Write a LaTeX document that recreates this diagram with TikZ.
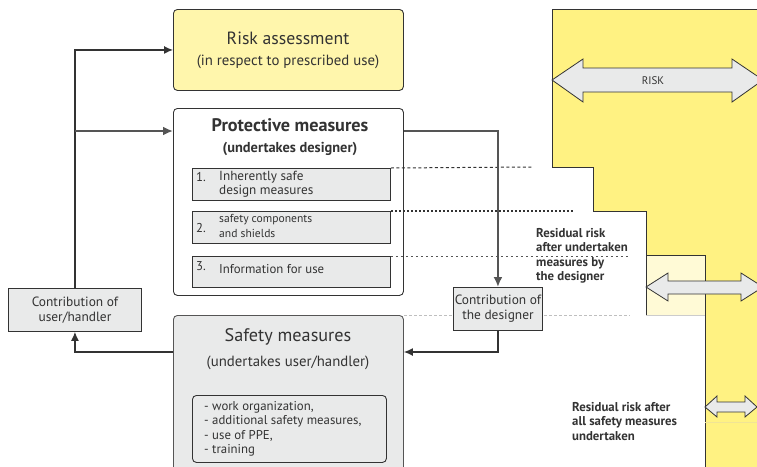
\documentclass[tikz,border=0pt]{standalone}
\usepackage{fontspec}
\setmainfont{PT Sans}
\usetikzlibrary{arrows.meta}
\definecolor{riskyellow}{RGB}{255,242,130}
\definecolor{paleyellow}{RGB}{255,246,172}
\definecolor{lightyellow}{RGB}{255,250,214}
\definecolor{boxgray}{RGB}{233,234,234}
\definecolor{linegray}{RGB}{51,51,51}
\definecolor{midgray}{RGB}{85,85,85}
\begin{document}
\begin{tikzpicture}[x=1pt,y=-1pt,
		box/.style={draw=linegray,line width=0.9pt,rounded corners=4pt,inner sep=0pt,anchor=north west},
		item/.style={draw=linegray,line width=0.9pt,fill=boxgray,inner sep=0pt,anchor=north west},
		bigarrow/.style={fill=boxgray,draw=linegray,line width=0.8pt,line join=miter},
		title/.style={text=linegray,font=\fontsize{17.7}{20}\selectfont},
		subtitle/.style={text=linegray,font=\fontsize{14.8}{17}\selectfont},
		small/.style={text=linegray,font=\fontsize{12.8}{14}\selectfont,inner sep=0pt},
		note/.style={text=linegray,font=\bfseries\fontsize{12.8}{14.4}\selectfont,inner sep=0pt,anchor=north west,align=left},
		conn/.style={draw=linegray,line width=1.2pt,-{Latex[length=9pt,width=8pt]}},
		thickconn/.style={draw=midgray,line width=2pt,-{Latex[length=10pt,width=9pt]}}
	]
	\useasboundingbox (0,0) rectangle (757,466);
	\clip (0,0) rectangle (757,466);

	% risk column
	\fill[lightyellow] (646,255) rectangle (705,315);
	\draw[gray!40] (646,315) -- (705,315);
	\draw[fill=riskyellow,draw=linegray,line width=0.9pt] (552,9) -- (762,9) -- (762,470) -- (705,470)
		-- (705,255) -- (646,255) -- (646,211) -- (593,211) -- (593,167) -- (552,167) -- cycle;
	\draw[linegray,line width=0.9pt] (646,255) -- (646,315);
	\draw[color={rgb,255:red,240;green,228;blue,150}] (705,422) -- (757,422);

	\draw[bigarrow] (552,80) -- (583,59) -- (583,68) -- (732,68) -- (732,59) -- (763,80)
		-- (732,102) -- (732,92) -- (583,92) -- (583,102) -- cycle;
	\node[small,font=\fontsize{11}{13}\selectfont] (risklabel) at (653,81) {RISK};
	\draw[bigarrow] (646,287) -- (668,273) -- (668,281) -- (741,281) -- (741,273) -- (763,287)
		-- (741,301) -- (741,294) -- (668,294) -- (668,301) -- cycle;
	\draw[bigarrow] (705,407) -- (717,396) -- (717,402) -- (745,402) -- (745,396) -- (757,407)
		-- (745,417) -- (745,412) -- (717,412) -- (717,417) -- cycle;

	\node[note] (resid1) at (536,228) {Residual risk\\after undertaken\\measures by\\the designer};
	\node[note] (resid2) at (572,402) {Residual risk after\\all safety measures\\undertaken};

	% boxes
	\node[box,fill=paleyellow,minimum width=230,minimum height=81] (risk) at (173,9) {};
	\node[title] (risktitle) at (288,38) {Risk assessment};
	\node[subtitle] (risksub) at (288,62) {(in respect to prescribed use)};

	\node[box,fill=white,minimum width=230,minimum height=187] (prot) at (173,108) {};
	\node[title,font=\bfseries\fontsize{18.2}{20}\selectfont] (prottitle) at (290,125) {Protective measures};
	\node[subtitle,font=\bfseries\fontsize{14.4}{17}\selectfont] (protsub) at (290,149) {(undertakes designer)};

	\node[item,minimum width=198,minimum height=32] (m1) at (192,168) {};
	\node[small,anchor=west] (n1) at (196,177) {1.};
	\node[small,anchor=west,align=left,font=\fontsize{13.2}{14}\selectfont] (t1) at (219,184) {Inherently safe\\design measures};
	\node[item,minimum width=198,minimum height=32] (m2) at (192,211) {};
	\node[small,anchor=west] (n2) at (196,228) {2.};
	\node[small,anchor=west,align=left,font=\fontsize{11.6}{14.5}\selectfont] (t2) at (219,226) {safety components\\and shields};
	\node[item,minimum width=198,minimum height=31] (m3) at (192,256) {};
	\node[small,anchor=west] (n3) at (196,266) {3.};
	\node[small,anchor=west] (t3) at (219,269) {Information for use};

	\node[box,fill=boxgray,draw=midgray,minimum width=230,minimum height=170] (safety) at (173,315) {};
	\node[title,font=\fontsize{18.2}{20}\selectfont] (safetitle) at (288,337) {Safety measures};
	\node[subtitle] (safesub) at (288,363) {(undertakes user/handler)};
	\node[box,fill=boxgray,minimum width=194,minimum height=67] (list) at (192,395) {};
	\node[small,anchor=west,align=left,font=\fontsize{12.8}{14.5}\selectfont] (listtext) at (204,429)
		{- work organization,\\- additional safety measures,\\- use of PPE,\\- training};

	\node[item,minimum width=133,minimum height=43,align=center,text=linegray,
		font=\fontsize{13.4}{15.5}\selectfont] (user) at (8,288) {Contribution of\\user/handler};

	% dashed levels
	\coordinate (lvl1) at (532,167);
	\coordinate (lvl2) at (574,211);
	\coordinate (lvl3) at (630,256);
	\coordinate (lvl4) at (630,315);
	\draw[linegray,line width=1pt,dash pattern=on 3pt off 2.5pt] (m1.north east) -- (lvl1);
	\draw[linegray,line width=1.3pt,dash pattern=on 2pt off 2pt] (m2.north east) -- (lvl2);
	\draw[midgray,line width=0.9pt,dash pattern=on 2.5pt off 2.5pt] (m3.north east) -- (lvl3);
	\draw[gray!50,line width=0.9pt,dash pattern=on 3pt off 2pt] (safety.north east) -- (lvl4);

	\node[item,minimum width=89,minimum height=43,align=center,text=linegray,
		font=\fontsize{13.4}{15}\selectfont] (design) at (453,287) {Contribution of\\the designer};

	% connectors
	\coordinate (protin) at ([yshift=-23pt]prot.north west);
	\coordinate (protout) at ([yshift=-23pt]prot.north east);
	\coordinate (safein) at ([yshift=-37pt]safety.north east);
	\coordinate (safeout) at ([yshift=-37pt]safety.north west);
	\draw[conn] (user.north) |- (risk.west);
	\draw[thickconn] (user.north |- protin) -- (protin);
	\draw[thickconn] (protout) -| (design.north);
	\draw[conn] (design.south) |- (safein);
	\draw[conn] (safeout) -| (user.south);
\end{tikzpicture}
\end{document}
